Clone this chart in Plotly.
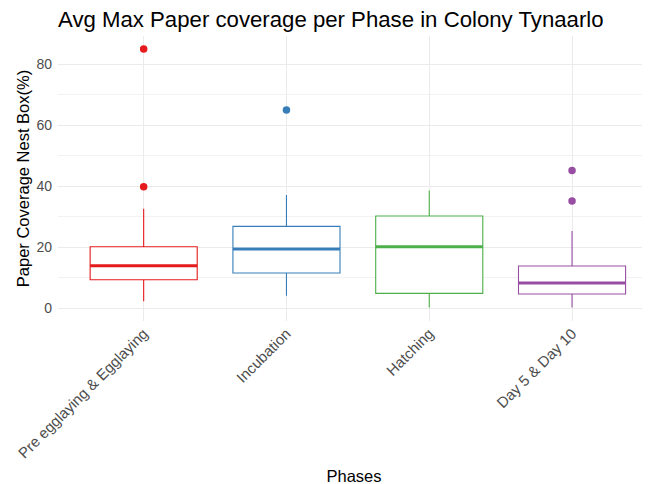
import plotly.graph_objects as go

categories = ["Pre egglaying & Egglaying", "Incubation", "Hatching", "Day 5 & Day 10"]
q1 = [9.3, 11.5, 4.8, 4.6]
median = [13.9, 19.4, 20.1, 8.2]
q3 = [20.1, 26.8, 30.2, 13.8]
lower_whisker = [2.2, 4.0, 0.2, 0.2]
upper_whisker = [32.6, 37.1, 38.6, 25.3]
outliers = [[39.8, 85.0], [65.0], [], [45.1, 35.1]]
colors = ["#E41A1C", "#377EB8", "#4DAF4A", "#984EA3"]

BOX_W = 0.75
fig = go.Figure()
for i, cat in enumerate(categories):
    pos = i + 1
    fig.add_trace(go.Box(
        x=[pos], q1=[q1[i]], median=[median[i]], q3=[q3[i]],
        lowerfence=[lower_whisker[i]], upperfence=[upper_whisker[i]],
        width=BOX_W, whiskerwidth=0, boxpoints=False,
        line=dict(color=colors[i], width=1.1), fillcolor="white",
        showlegend=False, name=cat, hoverinfo="skip"))
    fig.add_trace(go.Scatter(
        x=[pos - BOX_W / 2, pos + BOX_W / 2], y=[median[i], median[i]],
        mode="lines", line=dict(color=colors[i], width=3),
        showlegend=False, hoverinfo="skip"))
    if outliers[i]:
        fig.add_trace(go.Scatter(
            x=[pos] * len(outliers[i]), y=outliers[i], mode="markers",
            marker=dict(color=colors[i], size=7.5),
            showlegend=False, hoverinfo="skip"))

grid = "#EBEBEB"
# the page body has an 8px margin, so figure coords are offset by -8 from the photo
fig.update_layout(
    width=650, height=484,
    paper_bgcolor="white", plot_bgcolor="white",
    boxmode="overlay",
    margin=dict(l=50, r=8, t=28, b=171),
    font=dict(family="Liberation Sans, Arial, sans-serif", color="black"),
    title=dict(text="Avg Max Paper coverage per Phase in Colony Tynaarlo",
               x=50 / 650, xanchor="left", y=1 - 11 / 484, yanchor="middle",
               font=dict(size=22.2, color="black")),
    xaxis=dict(range=[0.4, 4.546], tickmode="array", tickvals=[1, 2, 3, 4],
               ticktext=categories, tickangle=-45, showgrid=True,
               gridcolor=grid, gridwidth=1, zeroline=False, showline=False,
               ticks="", tickfont=dict(size=15, color="#4D4D4D"),
               automargin=False,
               title=dict(text="Phases", font=dict(size=16.5, color="black"), standoff=10)),
    yaxis=dict(range=[-4.25, 89.25], tickvals=[0, 20, 40, 60, 80],
               showgrid=True, gridcolor=grid, gridwidth=1, zeroline=False,
               showline=False, ticks="", tickfont=dict(size=14, color="#4D4D4D"),
               ticklabelstandoff=5, automargin=False,
               minor=dict(tickvals=[10, 30, 50, 70], showgrid=True, gridcolor="#F2F2F2", gridwidth=1),
               title=dict(text="Paper Coverage Nest Box(%)", font=dict(size=16.5, color="black"), standoff=2)),
)
fig.write_html("out.html")
